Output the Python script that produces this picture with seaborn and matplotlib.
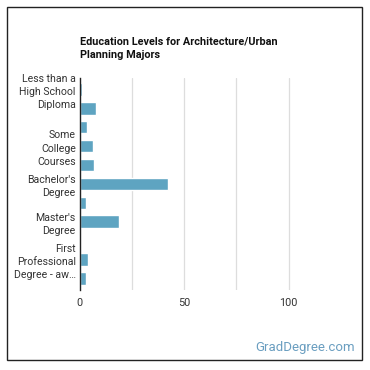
import matplotlib
matplotlib.use("Agg")
import matplotlib.pyplot as plt
import seaborn as sns
import pandas as pd
from matplotlib.patches import Rectangle

categories = [
    "Less than a High School Diploma",
    "High School Diploma",
    "Post-Secondary Certificate",
    "Some College Courses",
    "Associate's Degree",
    "Bachelor's Degree",
    "Post-Baccalaureate Certificate",
    "Master's Degree",
    "Post-Master's Certificate",
    "First Professional Degree - awarded",
    "Doctoral Degree",
]
values = [1.0, 7.8, 3.5, 6.4, 6.9, 42.0, 3.0, 18.9, 0.5, 4.0, 2.9]
shown_labels = [
    "Less than a\nHigh School\nDiploma", "", "",
    "Some\nCollege\nCourses", "",
    "Bachelor's\nDegree", "",
    "Master's\nDegree", "",
    "First\nProfessional\nDegree - aw…", "",
]
x_ticks = [0, 50, 100]
title = "Education Levels for Architecture/Urban\nPlanning Majors"

sns.set_theme(style="white")
plt.rcParams['font.family'] = ['Roboto', 'DejaVu Sans']

df = pd.DataFrame({"level": categories, "value": values})

fig = plt.figure(figsize=(3.7, 3.7), dpi=100)
ax = fig.add_axes([0.216, 0.216, 0.705, 0.573])

sns.barplot(data=df, x="value", y="level", orient="h", color="#5ea4c1",
            saturation=1, width=0.66, ax=ax)

ax.set_xlim(0, 125)
ax.set_ylim(10.62, -0.6)
for gx in [25, 50, 75, 100]:
    ax.axvline(gx, color="#dddddd", lw=0.9, zorder=0)
ax.set_xticks(x_ticks)
ax.set_xticklabels([str(t) for t in x_ticks], fontsize=7.8, color="#333333")
ax.set_yticks(range(len(categories)))
ax.set_yticklabels(shown_labels, fontsize=7.6, color="#333333",
                   multialignment="right", linespacing=1.4)
ax.tick_params(axis="y", length=0, pad=3)
ax.tick_params(axis="x", length=0, pad=6)
ax.set_xlabel("")
ax.set_ylabel("")
for s in ["top", "right", "bottom"]:
    ax.spines[s].set_visible(False)
ax.spines["left"].set_color("#222222")
ax.spines["left"].set_linewidth(1.0)

fig.text(80 / 370, 1 - 48.5 / 370, title, fontsize=7.8, fontweight="bold",
         color="#111111", ha="left", va="center", linespacing=1.45)
fig.text(355 / 370, 1 - 348 / 370, "GradDegree.com", fontsize=9.5,
         color="#6a9ec0", ha="right", va="center")

fig.patches.append(Rectangle((7 / 370, 1 - 360 / 370), 355 / 370, 353 / 370,
                             transform=fig.transFigure, fill=False,
                             edgecolor="#222222", lw=1.0))

fig.savefig("out.png", dpi=100)
